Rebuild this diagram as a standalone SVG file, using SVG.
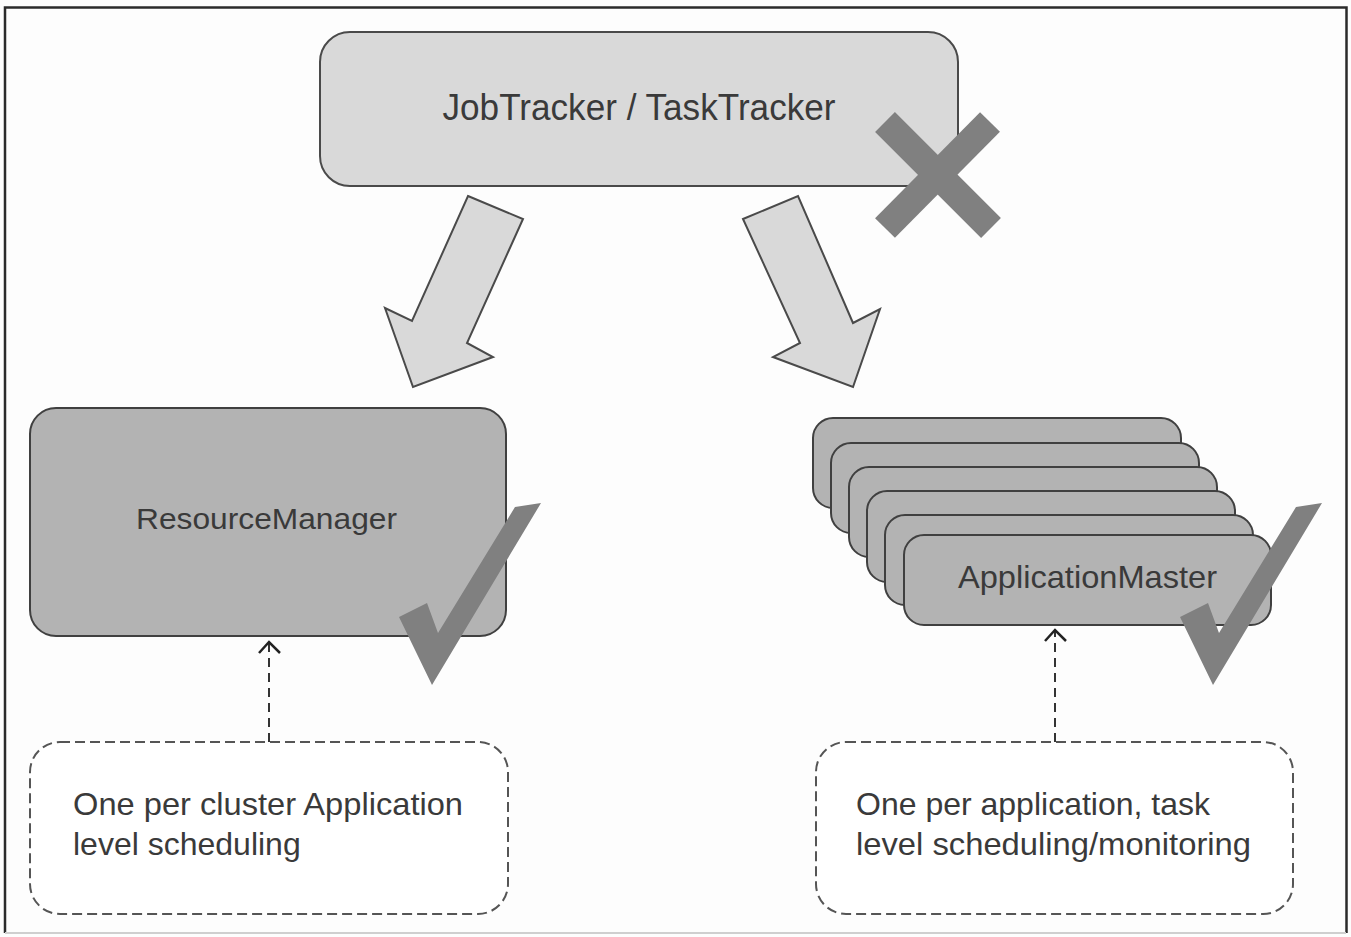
<svg xmlns="http://www.w3.org/2000/svg" width="1351" height="937" viewBox="0 0 1351 937">
<defs>
<style>
.frame{fill:none;stroke:#2b2b2b;stroke-width:2.5}
.light{fill:#d9d9d9;stroke:#4a4a4a;stroke-width:2}
.dark{fill:#b3b3b3;stroke:#404040;stroke-width:2}
.note{fill:#ffffff;stroke:#555;stroke-width:2;stroke-dasharray:10 5}
.mark{fill:#808080;stroke:none}
.lbl{font-family:"Liberation Sans",Arial,sans-serif;fill:#3a3a3a}
.conn{fill:none;stroke:#333;stroke-width:2;stroke-dasharray:9 6}
.chev{fill:none;stroke:#222;stroke-width:2.5}
</style>
</defs>
<rect x="0" y="0" width="1351" height="937" fill="#fdfdfd"/>
<path class="frame" d="M5,933 V7.5 H1346.5 V933"/>
<line x1="5" y1="933" x2="1346" y2="933" stroke="#cfcfcf" stroke-width="2"/>

<g id="jobtracker">
<rect class="light" x="320" y="32" width="638" height="154" rx="30"/>
<text class="lbl" x="639" y="120" font-size="37" text-anchor="middle" textLength="393" lengthAdjust="spacingAndGlyphs">JobTracker / TaskTracker</text>
</g>
<g id="cross">
<line x1="885" y1="122" x2="991" y2="228" stroke="#808080" stroke-width="28"/>
<line x1="990" y1="122" x2="885" y2="228" stroke="#808080" stroke-width="28"/>
</g>

<g id="connectors">
<polygon class="light" points="468,196 523,219 467,343 493,357 413,387 385,308 412,321"/>
<polygon class="light" points="743,219 798,196 853,323 880,309 853,387 773,357 800,343"/>
<line class="conn" x1="269" y1="742" x2="269" y2="643"/>
<polyline class="chev" points="259,653 269,642 280,653"/>
<line class="conn" x1="1055" y1="742" x2="1055" y2="629"/>
<polyline class="chev" points="1045,641 1055,630 1066,641"/>
</g>

<g id="resourcemanager">
<rect class="dark" x="30" y="408" width="476" height="228" rx="26"/>
<text class="lbl" x="266.5" y="529" font-size="29.5" text-anchor="middle" textLength="261" lengthAdjust="spacingAndGlyphs">ResourceManager</text>
</g>
<g id="check-left">
<polygon class="mark" points="399,617 427,603 438,633 515,507 541,503 432,685"/>
</g>

<g id="applicationmaster">
<rect class="dark" x="813" y="418" width="368" height="90" rx="20"/>
<rect class="dark" x="831" y="443" width="368" height="90" rx="20"/>
<rect class="dark" x="849" y="467" width="368" height="90" rx="20"/>
<rect class="dark" x="867" y="491" width="368" height="91" rx="20"/>
<rect class="dark" x="885" y="515" width="368" height="90" rx="20"/>
<rect class="dark" x="904" y="535" width="367" height="90" rx="20"/>
<text class="lbl" x="1087.5" y="588" font-size="32" text-anchor="middle" textLength="259" lengthAdjust="spacingAndGlyphs">ApplicationMaster</text>
</g>
<g id="check-right">
<polygon class="mark" points="1180,617 1208,603 1219,633 1296,507 1322,503 1213,685"/>
</g>

<g id="note-left">
<rect class="note" x="30" y="742" width="478" height="172" rx="30"/>
<text class="lbl" x="73" y="815" font-size="32" textLength="390" lengthAdjust="spacingAndGlyphs">One per cluster Application</text>
<text class="lbl" x="73" y="855" font-size="32">level scheduling</text>
</g>
<g id="note-right">
<rect class="note" x="816" y="742" width="477" height="172" rx="30"/>
<text class="lbl" x="856" y="815" font-size="32">One per application, task</text>
<text class="lbl" x="856" y="855" font-size="32" textLength="395" lengthAdjust="spacingAndGlyphs">level scheduling/monitoring</text>
</g>
</svg>
